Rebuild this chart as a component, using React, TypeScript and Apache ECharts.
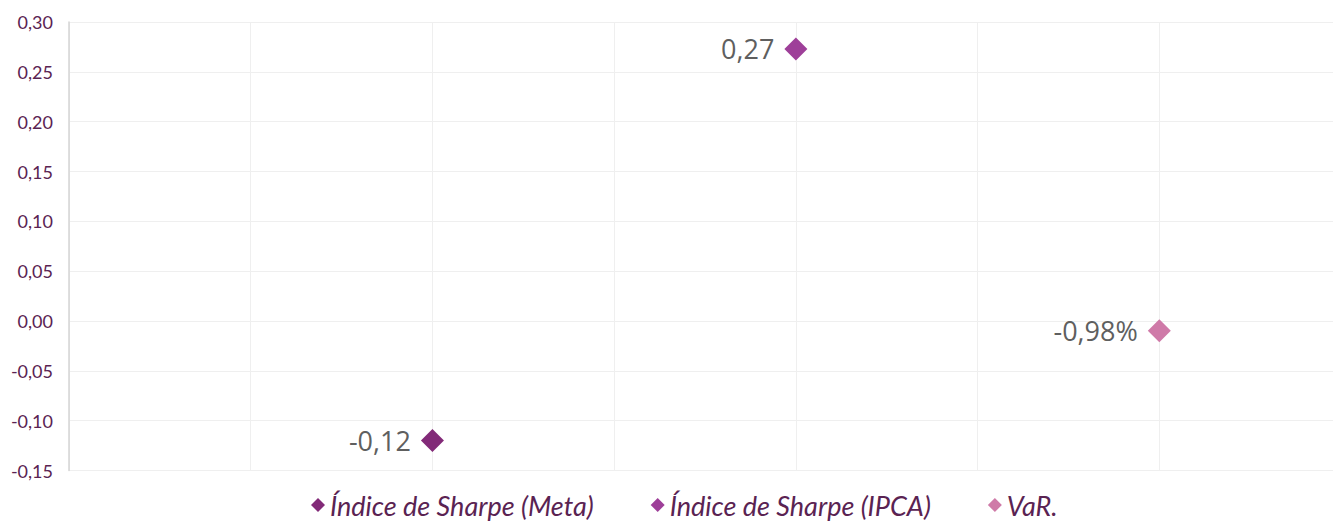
import React, { useEffect, useRef } from "react";
import * as echarts from "echarts";

const seriesNames = ["Índice de Sharpe (Meta)", "Índice de Sharpe (IPCA)", "VaR."];
const xPositions = [2, 4, 6];
const yValues = [-0.12, 0.273, -0.0098];
const labelKinds = ["decimal", "decimal", "percent"];
const colors = ["#822a78", "#9e3f99", "#cf7aa8"];
const yTicks = [-0.15, -0.1, -0.05, 0, 0.05, 0.1, 0.15, 0.2, 0.25, 0.3];

const fmtDec = (v: number) => v.toFixed(2).replace(".", ",");

export default function App() {
  const ref = useRef<HTMLDivElement>(null);
  useEffect(() => {
    document.body.style.margin = "0";
    const chart = echarts.init(ref.current!, null, { renderer: "svg" });
    chart.setOption({
      animation: false,
      backgroundColor: "#ffffff",
      grid: { left: 69, top: 22, bottom: 51.5, right: -8, outerBoundsMode: "none" },
      legend: {
        top: 490,
        left: 311,
        padding: 0,
        icon: "diamond",
        itemWidth: 14,
        itemHeight: 14,
        itemGap: 57,
        textStyle: {
          fontFamily: "Lato",
          fontStyle: "italic",
          fontSize: 27,
          lineHeight: 30,
          color: "#5a2352",
        },
        data: seriesNames,
      },
      xAxis: {
        type: "value",
        min: 0,
        max: 7,
        interval: 1,
        axisLabel: { show: false },
        axisTick: { show: false },
        axisLine: { show: false },
        splitLine: { show: true, lineStyle: { color: "#efefef", width: 1 } },
      },
      yAxis: {
        type: "value",
        min: yTicks[0],
        max: yTicks[yTicks.length - 1],
        interval: 0.05,
        axisLine: { show: true, lineStyle: { color: "#d4d4d4", width: 1.5 } },
        axisTick: { show: false },
        splitLine: { show: true, lineStyle: { color: "#efefef", width: 1 } },
        axisLabel: {
          margin: 16,
          fontFamily: "Lato",
          fontSize: 18,
          color: "#5a2352",
          formatter: (v: number) => fmtDec(v),
        },
      },
      series: seriesNames.map((name, i) => ({
        name,
        type: "scatter",
        symbol: "diamond",
        symbolSize: 23,
        itemStyle: { color: colors[i], opacity: 1 },
        label: {
          show: true,
          position: "left",
          distance: 10,
          fontFamily: "Open Sans",
          fontSize: 27,
          color: "#5f5f5f",
          formatter: () =>
            labelKinds[i] === "percent"
              ? fmtDec(yValues[i] * 100) + "%"
              : fmtDec(yValues[i]),
        },
        data: [[xPositions[i], yValues[i]]],
      })),
    });
    return () => chart.dispose();
  }, []);
  return <div ref={ref} style={{ width: 1333, height: 522 }} />;
}
